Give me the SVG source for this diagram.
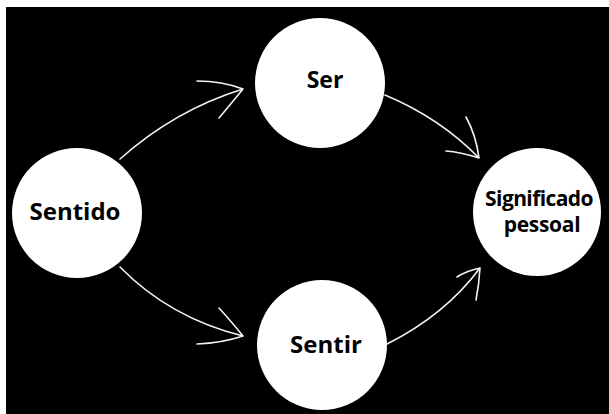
<svg xmlns="http://www.w3.org/2000/svg" width="609" height="414" viewBox="0 0 609 414">
<style>
.node{fill:#fff}
.lbl{font-family:"Open Sans","Liberation Sans",sans-serif;font-weight:700;fill:#000;text-anchor:middle}
.edge{fill:none;stroke:#f2f2f2;stroke-width:1.6;stroke-linecap:round}
</style>
<rect x="0" y="0" width="609" height="414" fill="#fff"/>
<rect x="6" y="7" width="603" height="407" fill="#000"/>
<g id="connectors">
<path class="edge" d="M120,159 Q175,110 243,89 M243,89 Q222,81 197,81 M243,89 Q230,105 219,118"/>
<path class="edge" d="M385,95 Q440,118 479,158 M479,158 Q476,135 466,117 M479,158 Q460,152 446,151"/>
<path class="edge" d="M120,267 Q170,318 243,336 M243,336 Q230,320 219,308 M243,336 Q222,343 197,344"/>
<path class="edge" d="M387,344 Q445,315 480,268 M480,268 Q466,271 457,277 M480,268 Q479,285 476,300"/>
</g>
<g id="sentido">
<circle class="node" cx="77" cy="213" r="65"/>
<text class="lbl" x="75" y="220" font-size="24">Sentido</text>
</g>
<g id="ser">
<circle class="node" cx="320" cy="83" r="65"/>
<text class="lbl" x="325" y="88" font-size="23">Ser</text>
</g>
<g id="sentir">
<circle class="node" cx="322" cy="345" r="65"/>
<text class="lbl" x="326" y="353" font-size="24">Sentir</text>
</g>
<g id="significado">
<circle class="node" cx="537" cy="212" r="64"/>
<text class="lbl" x="539" y="206" font-size="21" letter-spacing="-0.6">Significado</text>
<text class="lbl" x="542" y="232" font-size="21" letter-spacing="-0.3">pessoal</text>
</g>
</svg>
